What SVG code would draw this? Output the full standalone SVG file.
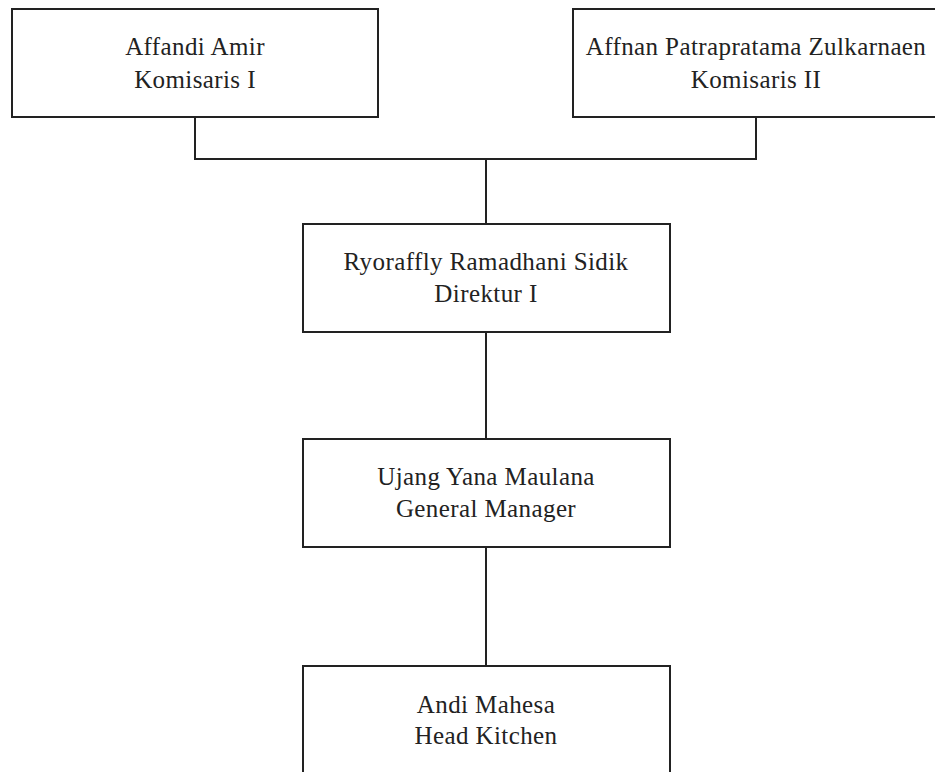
<svg xmlns="http://www.w3.org/2000/svg" width="935" height="772" viewBox="0 0 935 772">
<style>
.n{fill:#fff;stroke:#222;stroke-width:2}
.c{fill:none;stroke:#222;stroke-width:2}
text{font-family:"Liberation Serif","Times New Roman",serif;font-size:25px;letter-spacing:0.4px;fill:#222;text-anchor:middle}
</style>
<rect width="935" height="772" fill="#fff"/>
<g id="connectors">
<polyline class="c" points="195,117 195,159 756,159 756,117"/>
<line class="c" x1="486" y1="159" x2="486" y2="224"/>
<line class="c" x1="486" y1="332" x2="486" y2="439"/>
<line class="c" x1="486" y1="547" x2="486" y2="666"/>
</g>
<g id="n1"><rect class="n" x="12" y="9" width="366" height="108"/><text x="195" y="55">Affandi Amir</text><text x="195" y="88">Komisaris I</text></g>
<g id="n2"><rect class="n" x="573" y="9" width="380" height="108"/><text x="756" y="55">Affnan Patrapratama Zulkarnaen</text><text x="756" y="88">Komisaris II</text></g>
<g id="n3"><rect class="n" x="303" y="224" width="367" height="108"/><text x="486" y="270">Ryoraffly Ramadhani Sidik</text><text x="486" y="302">Direktur I</text></g>
<g id="n4"><rect class="n" x="303" y="439" width="367" height="108"/><text x="486" y="485">Ujang Yana Maulana</text><text x="486" y="517">General Manager</text></g>
<g id="n5"><rect class="n" x="303" y="666" width="367" height="120"/><text x="486" y="713">Andi Mahesa</text><text x="486" y="744">Head Kitchen</text></g>
</svg>
